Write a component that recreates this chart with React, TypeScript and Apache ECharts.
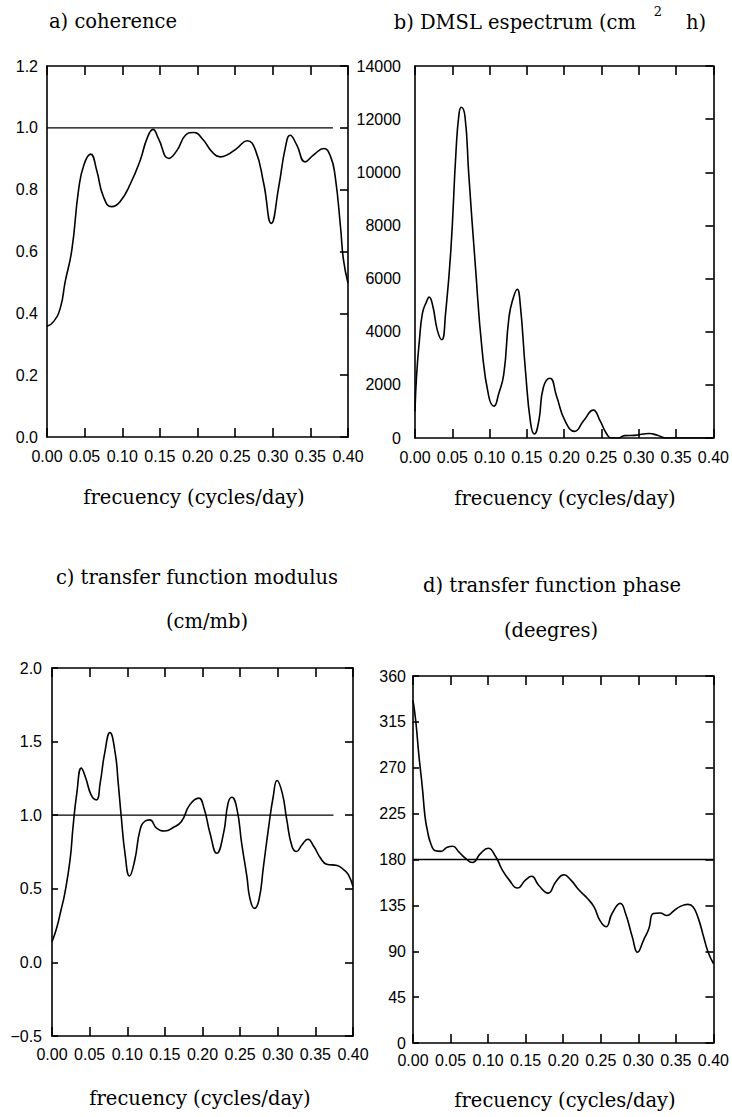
import React, { useEffect, useRef } from "react";
import * as echarts from "echarts";

// ---------- data ----------
const cohFreq = [0, 0.009, 0.018, 0.024, 0.033, 0.042, 0.049, 0.058, 0.066, 0.075, 0.086, 0.097, 0.111, 0.124, 0.133, 0.141, 0.148, 0.162, 0.173, 0.184, 0.195, 0.208, 0.219, 0.23, 0.239, 0.252, 0.266, 0.277, 0.288, 0.298, 0.308, 0.317, 0.323, 0.332, 0.343, 0.354, 0.368, 0.377, 0.383, 0.39, 0.394, 0.4];
const cohVal = [0.358, 0.374, 0.42, 0.5, 0.605, 0.8, 0.88, 0.915, 0.863, 0.777, 0.745, 0.761, 0.82, 0.896, 0.966, 0.995, 0.966, 0.901, 0.928, 0.976, 0.985, 0.96, 0.923, 0.906, 0.912, 0.933, 0.958, 0.928, 0.82, 0.691, 0.81, 0.939, 0.976, 0.944, 0.89, 0.912, 0.933, 0.906, 0.842, 0.681, 0.573, 0.498];
const cohRefX = [0, 0.38];
const cohRefY = 1;

const specFreq = [0, 0.002, 0.006, 0.01, 0.015, 0.019, 0.024, 0.03, 0.036, 0.041, 0.048, 0.055, 0.059, 0.062, 0.067, 0.072, 0.081, 0.09, 0.099, 0.106, 0.112, 0.119, 0.126, 0.132, 0.137, 0.141, 0.148, 0.155, 0.16, 0.166, 0.172, 0.181, 0.19, 0.201, 0.214, 0.226, 0.239, 0.248, 0.257, 0.263, 0.272, 0.281, 0.294, 0.314, 0.325, 0.336, 0.4];
const specVal = [1000, 2300, 3700, 4700, 5100, 5300, 4950, 4050, 3700, 4700, 7050, 10800, 12200, 12450, 12100, 9950, 6450, 3300, 1550, 1200, 1650, 2400, 4550, 5300, 5600, 5050, 2550, 550, 150, 650, 1900, 2250, 1550, 650, 250, 650, 1050, 650, 150, 0, 0, 90, 100, 170, 100, 0, 0];

const modFreq = [0, 0.006, 0.012, 0.017, 0.024, 0.028, 0.033, 0.039, 0.045, 0.052, 0.059, 0.064, 0.07, 0.077, 0.084, 0.088, 0.092, 0.097, 0.103, 0.11, 0.117, 0.123, 0.13, 0.139, 0.15, 0.161, 0.172, 0.183, 0.195, 0.202, 0.21, 0.219, 0.228, 0.234, 0.239, 0.246, 0.252, 0.259, 0.263, 0.269, 0.275, 0.281, 0.288, 0.294, 0.299, 0.306, 0.312, 0.319, 0.325, 0.332, 0.34, 0.348, 0.357, 0.365, 0.379, 0.388, 0.394, 0.4];
const modVal = [0.14, 0.23, 0.356, 0.469, 0.696, 0.923, 1.15, 1.32, 1.25, 1.138, 1.104, 1.218, 1.422, 1.562, 1.422, 1.218, 0.991, 0.741, 0.587, 0.696, 0.9, 0.957, 0.968, 0.912, 0.893, 0.916, 0.957, 1.07, 1.116, 1.048, 0.878, 0.741, 0.878, 1.082, 1.122, 1.036, 0.81, 0.583, 0.435, 0.367, 0.424, 0.651, 0.923, 1.127, 1.236, 1.15, 0.968, 0.787, 0.753, 0.798, 0.837, 0.787, 0.707, 0.667, 0.658, 0.628, 0.594, 0.515];
const modRefX = [0, 0.374];
const modRefY = 1;

const phaseFreq = [0, 0.0035, 0.008, 0.0124, 0.016, 0.019, 0.0235, 0.03, 0.037, 0.0456, 0.053, 0.061, 0.07, 0.079, 0.09, 0.1, 0.11, 0.119, 0.128, 0.139, 0.15, 0.158, 0.167, 0.18, 0.19, 0.201, 0.21, 0.221, 0.232, 0.241, 0.249, 0.257, 0.265, 0.276, 0.283, 0.292, 0.299, 0.307, 0.314, 0.32, 0.329, 0.338, 0.347, 0.356, 0.366, 0.373, 0.38, 0.387, 0.393, 0.4];
const phaseVal = [336, 317, 281, 251, 222, 209, 196, 188.5, 188, 192, 193, 187.5, 181, 177, 186, 191, 183, 169.5, 160, 152, 160, 163.5, 155, 147, 158, 165, 160, 150, 142, 133.5, 120, 114, 127, 137, 127, 104, 89, 101, 112, 127, 127.5, 125, 129.5, 134, 136, 133.5, 122, 104, 89, 78];
const phaseRefX = [0, 0.4];
const phaseRefY = 180;

const freqRange = [0, 0.4, 0.05];
const cohRange = [0, 1.2, 0.2];
const specRange = [0, 14000, 2000];
const modRange = [-0.5, 2.0, 0.5];
const phaseRange = [0, 360, 45];

const xName = "frecuency (cycles/day)";

// ---------- styles ----------
const NUM_FONT = "'Liberation Sans', Arial, sans-serif";
const SERIF = "'DejaVu Serif', 'Liberation Serif', serif";
const BLACK = "#000";
const AXIS_W = 1.6;
const TITLE_SIZE = 19.5;

const pair = (xs: number[], ys: number[]) => xs.map((x, i) => [x, ys[i]]);

function xAxesFor(gi: number, margin: number) {
  const base = {
    type: "value" as const,
    gridIndex: gi,
    min: freqRange[0],
    max: freqRange[1],
    interval: freqRange[2],
    splitLine: { show: false },
    axisLine: { show: true, onZero: false, lineStyle: { color: BLACK, width: AXIS_W } },
  };
  return [
    {
      ...base,
      position: "bottom",
      axisTick: { show: true, inside: true, length: 9, lineStyle: { color: BLACK, width: AXIS_W } },
      axisLabel: {
        show: true,
        margin,
        color: BLACK,
        fontFamily: NUM_FONT,
        fontSize: 16,
        showMinLabel: true,
        showMaxLabel: true,
        formatter: (v: number) => v.toFixed(2),
      },
    },
    {
      ...base,
      position: "top",
      axisTick: { show: true, inside: true, length: 9, lineStyle: { color: BLACK, width: AXIS_W } },
      axisLabel: { show: false },
    },
  ];
}

function yAxesFor(gi: number, range: number[], margin: number, leftTick: number, fmt: (v: number) => string) {
  const base = {
    type: "value" as const,
    gridIndex: gi,
    min: range[0],
    max: range[1],
    interval: range[2],
    splitLine: { show: false },
    axisLine: { show: true, onZero: false, lineStyle: { color: BLACK, width: AXIS_W } },
  };
  return [
    {
      ...base,
      position: "left",
      axisTick: { show: leftTick > 0, inside: true, length: leftTick, lineStyle: { color: BLACK, width: AXIS_W } },
      axisLabel: {
        show: true,
        margin,
        color: BLACK,
        fontFamily: NUM_FONT,
        fontSize: 16,
        showMinLabel: true,
        showMaxLabel: true,
        formatter: fmt,
      },
    },
    {
      ...base,
      position: "right",
      axisTick: { show: true, inside: true, length: 8, lineStyle: { color: BLACK, width: AXIS_W } },
      axisLabel: { show: false },
    },
  ];
}

const fmt1 = (v: number) => (v < 0 ? "\u2212" + Math.abs(v).toFixed(1) : v.toFixed(1));
const fmt0 = (v: number) => String(Math.round(v));

function curve(gi: number, data: number[][], width = 1.6) {
  return {
    type: "line",
    xAxisIndex: gi * 2,
    yAxisIndex: gi * 2,
    data,
    showSymbol: false,
    symbol: "none",
    smooth: 0.5,
    silent: true,
    lineStyle: { color: BLACK, width },
  };
}

function refLine(gi: number, xs: number[], y: number) {
  return {
    type: "line",
    xAxisIndex: gi * 2,
    yAxisIndex: gi * 2,
    data: xs.map((x) => [x, y]),
    showSymbol: false,
    symbol: "none",
    silent: true,
    lineStyle: { color: BLACK, width: 1.3 },
  };
}

function txt(text: string, x: number, y: number, size: number, align = "center") {
  return {
    type: "text",
    x,
    y,
    silent: true,
    style: {
      text,
      fill: BLACK,
      font: `${size}px ${SERIF}`,
      align,
      verticalAlign: "middle",
    },
  };
}

export default function App() {
  const ref = useRef<HTMLDivElement>(null);
  useEffect(() => {
    if (!ref.current) return;
    const chart = echarts.init(ref.current, null, { renderer: "svg" });
    const option: any = {
      animation: false,
      backgroundColor: "#fff",
      grid: [
        { left: 47, top: 66, width: 301, height: 371 },
        { left: 415, top: 66, width: 300, height: 372 },
        { left: 52, top: 668, width: 301, height: 368 },
        { left: 413, top: 676, width: 301, height: 367 },
      ],
      xAxis: [...xAxesFor(0, 11), ...xAxesFor(1, 11), ...xAxesFor(2, 10), ...xAxesFor(3, 9)],
      yAxis: [
        ...yAxesFor(0, cohRange, 9, 0, fmt1),
        ...yAxesFor(1, specRange, 14, 0, fmt0),
        ...yAxesFor(2, modRange, 10, 6, fmt1),
        ...yAxesFor(3, phaseRange, 7, 6, fmt0),
      ],
      series: [
        curve(0, pair(cohFreq, cohVal)),
        refLine(0, cohRefX, cohRefY),
        curve(1, pair(specFreq, specVal)),
        curve(2, pair(modFreq, modVal)),
        refLine(2, modRefX, modRefY),
        curve(3, pair(phaseFreq, phaseVal)),
        refLine(3, phaseRefX, phaseRefY),
      ],
      graphic: [
        txt("a) coherence", 113, 21, TITLE_SIZE),
        txt("b) DMSL espectrum (cm", 636, 22, TITLE_SIZE, "right"),
        txt("2", 658, 11, 13),
        txt("h)", 686, 22, TITLE_SIZE, "left"),
        txt(xName, 194, 497, TITLE_SIZE),
        txt(xName, 565, 498, TITLE_SIZE),
        txt("c) transfer function modulus", 197, 577, TITLE_SIZE),
        txt("(cm/mb)", 207, 621, TITLE_SIZE),
        txt("d) transfer function phase", 552, 585, TITLE_SIZE),
        txt("(deegres)", 551, 630, TITLE_SIZE),
        txt(xName, 200, 1098, TITLE_SIZE),
        txt(xName, 565, 1100, TITLE_SIZE),
      ],
    };
    chart.setOption(option);
    return () => chart.dispose();
  }, []);
  return (
    <div
      ref={ref}
      style={{ position: "fixed", left: 0, top: 0, width: 732, height: 1117, background: "#fff" }}
    />
  );
}
